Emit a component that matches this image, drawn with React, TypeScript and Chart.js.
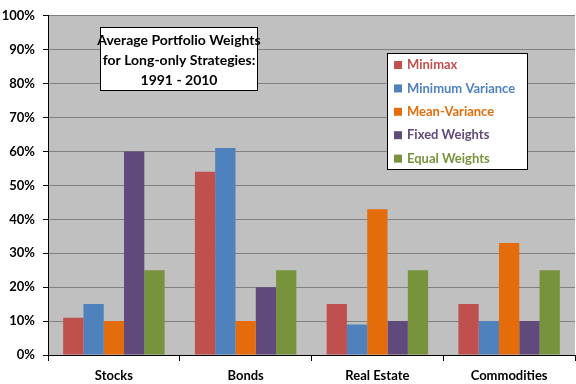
import React, { useEffect, useRef } from "react";
import { Chart, registerables } from "chart.js";

Chart.register(...registerables);

const categories = ["Stocks", "Bonds", "Real Estate", "Commodities"];
const seriesNames = ["Minimax", "Minimum Variance", "Mean-Variance", "Fixed Weights", "Equal Weights"];
const minimax = [11, 54, 15, 15];
const minimumVariance = [15, 61, 9, 10];
const meanVariance = [10, 10, 43, 33];
const fixedWeights = [60, 20, 10, 10];
const equalWeights = [25, 25, 25, 25];
const seriesValues = [minimax, minimumVariance, meanVariance, fixedWeights, equalWeights];
const seriesColors = ["#C0504D", "#4F81BD", "#E46C0A", "#604A7B", "#77933C"];
const titleLines = ["Average Portfolio Weights", "for Long-only Strategies:", "1991 - 2010"];

const FONT = "Lato, 'Open Sans', sans-serif";

const boxesPlugin = {
  id: "boxes",
  beforeDraw(chart: any) {
    const { ctx, chartArea } = chart;
    ctx.save();
    ctx.fillStyle = "#C0C0C0";
    ctx.fillRect(chartArea.left, chartArea.top, chartArea.right - chartArea.left, chartArea.bottom - chartArea.top);
    ctx.restore();
  },
  afterDraw(chart: any) {
    const { ctx } = chart;
    ctx.save();
    // title box
    const tx = 100.5, ty = 27.5, tw = 157, th = 63;
    ctx.fillStyle = "#FFFFFF";
    ctx.fillRect(tx, ty, tw, th);
    ctx.strokeStyle = "#000000";
    ctx.lineWidth = 1;
    ctx.strokeRect(tx, ty, tw, th);
    ctx.fillStyle = "#000000";
    ctx.font = `bold 14px ${FONT}`;
    ctx.textAlign = "center";
    ctx.textBaseline = "middle";
    titleLines.forEach((l, i) => ctx.fillText(l, tx + tw / 2, 40 + i * 20));
    // legend box
    const lx = 387.5, ly = 53.5, lw = 140, lh = 116;
    ctx.fillStyle = "#FFFFFF";
    ctx.fillRect(lx, ly, lw, lh);
    ctx.strokeRect(lx, ly, lw, lh);
    ctx.font = `bold 13px ${FONT}`;
    ctx.textAlign = "left";
    seriesNames.forEach((n, i) => {
      const cy = 65 + i * 23.4;
      ctx.fillStyle = seriesColors[i];
      ctx.fillRect(394, cy - 4, 8, 8);
      ctx.fillText(n, 407, cy);
    });
    ctx.restore();
  },
};

export default function App() {
  const ref = useRef<HTMLCanvasElement>(null);
  useEffect(() => {
    document.body.style.margin = "0";
    const chart = new Chart(ref.current!, {
      type: "bar",
      data: {
        labels: categories,
        datasets: seriesNames.map((name, i) => ({
          label: name,
          data: seriesValues[i],
          backgroundColor: seriesColors[i],
          borderWidth: 0,
          categoryPercentage: 0.77,
          barPercentage: 1,
        })),
      },
      options: {
        responsive: false,
        animation: false,
        layout: { padding: { top: 8, right: 1, left: 0, bottom: 0 } },
        plugins: { legend: { display: false }, tooltip: { enabled: false }, title: { display: false } },
        scales: {
          x: {
            afterFit: (s: any) => { s.height = 29; },
            grid: { offset: true, drawOnChartArea: false, tickLength: 6, tickColor: "#000000", color: "#000000" },
            border: { color: "#000000", width: 1 },
            ticks: { color: "#000000", font: { family: FONT, size: 13, weight: "bold" }, padding: 7 },
          },
          y: {
            min: 0,
            max: 100,
            afterFit: (s: any) => { s.width = 48; },
            grid: { color: "#808080", tickLength: 5, tickColor: "#000000" },
            border: { color: "#000000", width: 1 },
            ticks: {
              stepSize: 10,
              color: "#000000",
              padding: 8,
              font: { family: FONT, size: 13, weight: "bold" },
              callback: (v: any) => `${v}%`,
            },
          },
        },
      },
      plugins: [boxesPlugin],
    });
    return () => chart.destroy();
  }, []);
  return (
    <div style={{ width: 576, height: 384 }}>
      <canvas ref={ref} width={576} height={384} />
    </div>
  );
}
